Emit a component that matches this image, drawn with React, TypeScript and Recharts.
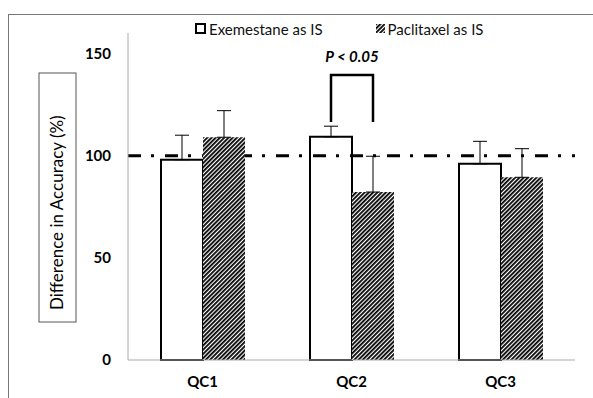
import React from "react";
import {
  BarChart,
  Bar,
  XAxis,
  YAxis,
  ErrorBar,
  ReferenceLine,
  LabelList,
  Legend,
} from "recharts";

const categories = ["QC1", "QC2", "QC3"];
const exemestane = [98, 109.2, 96];
const exemestaneErr = [12, 5.2, 11];
const paclitaxel = [109, 82.2, 89.4];
const paclitaxelErr = [13, 17.5, 14];
const yTicks = [0, 50, 100, 150];
const refValue = 100;
// significance bracket, only for QC2
const bracketTop = [null, 139.5, null];
const bracketLeg = [null, 116.5, null];
const bracketText = [null, "P < 0.05", null];

const data = categories.map((name, i) => ({
  name,
  exe: exemestane[i],
  exeErr: [0, exemestaneErr[i]],
  pac: paclitaxel[i],
  pacErr: [0, paclitaxelErr[i]],
  sig: bracketTop[i],
}));

const font = "Lato, 'Open Sans', sans-serif";

function Bracket(props: any) {
  const i = props.index;
  if (i == null || bracketTop[i] == null) return null;
  const vb = props.viewBox || props;
  const base = vb.y + vb.height;
  const ppu = vb.height / exemestane[i];
  const x1 = vb.x + vb.width / 2;
  const x2 = vb.x + vb.width * 1.5;
  const yTop = base - (bracketTop[i] as number) * ppu;
  const yLeg = base - (bracketLeg[i] as number) * ppu;
  return (
    <g>
      <path
        d={`M${x1},${yLeg} L${x1},${yTop} L${x2},${yTop} L${x2},${yLeg}`}
        fill="none"
        stroke="#000"
        strokeWidth={2.5}
      />
      <text
        x={(x1 + x2) / 2}
        y={yTop - 13}
        textAnchor="middle"
        fontWeight="bold"
        fontStyle="italic"
        fontSize={15}
        fill="#000"
      >
        {bracketText[i]}
      </text>
    </g>
  );
}

function YLabel() {
  const tx = 63;
  const ty = 310;
  return (
    <g>
      <rect x={39} y={73} width={37} height={249} fill="#fff" stroke="#555" strokeWidth={1} />
      <text
        x={tx}
        y={ty}
        transform={`rotate(-90 ${tx} ${ty})`}
        textAnchor="start"
        fontSize={17}
        fill="#000"
      >
        Difference in Accuracy (%)
      </text>
    </g>
  );
}

function LegendContent() {
  return (
    <div
      style={{
        display: "flex",
        justifyContent: "flex-start",
        fontSize: 15,
        color: "#111",
        paddingLeft: 195,
      }}
    >
      <div style={{ display: "flex", alignItems: "center", marginRight: 53 }}>
        <svg width={14} height={12}>
          <rect x={1} y={1} width={9} height={9} fill="#fff" stroke="#000" strokeWidth={2} />
        </svg>
        <span>Exemestane as IS</span>
      </div>
      <div style={{ display: "flex", alignItems: "center" }}>
        <svg width={12} height={12}>
          <rect x={0} y={1} width={9} height={9} fill="url(#hatch)" />
        </svg>
        <span>Paclitaxel as IS</span>
      </div>
    </div>
  );
}

export default function App() {
  return (
    <div
      style={{
        position: "absolute",
        left: 0,
        top: 0,
        width: 593,
        height: 398,
        overflow: "hidden",
        background: "#fff",
        fontFamily: font,
      }}
    >
      <div
        style={{
          position: "absolute",
          left: 8,
          top: 14,
          width: 700,
          height: 500,
          border: "1px solid #777",
        }}
      />
      <div style={{ position: "absolute", left: 0, top: 0 }}>
        <BarChart
          width={593}
          height={398}
          data={data}
          margin={{ top: 33, right: 18, bottom: 8, left: 88 }}
          barSize={42}
          barGap={0}
        >
          <defs>
            <pattern
              id="hatch"
              width={3}
              height={3}
              patternUnits="userSpaceOnUse"
              patternTransform="rotate(45)"
            >
              <rect x={0} y={0} width={3} height={3} fill="#fff" />
              <rect x={0} y={0} width={1.8} height={3} fill="#000" />
            </pattern>
          </defs>
          <XAxis
            dataKey="name"
            height={30}
            axisLine={{ stroke: "#aaa" }}
            tickLine={false}
            tickSize={0}
            tickMargin={16}
            tick={{ fill: "#000", fontWeight: "bold", fontSize: 15 }}
          />
          <YAxis
            width={40}
            domain={[0, 160]}
            ticks={yTicks}
            axisLine={{ stroke: "#aaa" }}
            tickLine={false}
            tickSize={0}
            tickMargin={17}
            tick={{ fill: "#000", fontWeight: "bold", fontSize: 15 }}
            label={<YLabel />}
          />
          <Legend
            verticalAlign="middle"
            align="center"
            layout="horizontal"
            wrapperStyle={{ top: 20, left: 0, width: 593 }}
            content={<LegendContent />}
          />
          <ReferenceLine
            y={refValue}
            stroke="#000"
            strokeWidth={3}
            strokeDasharray="13 10 3 11"
            zIndex={250}
          />
          <Bar
            dataKey="exe"
            fill="none"
            stroke="#000"
            strokeWidth={2}
            isAnimationActive={false}
          >
            <ErrorBar dataKey="exeErr" direction="y" width={7} stroke="#000" strokeWidth={1} />
            <LabelList dataKey="sig" content={<Bracket />} />
          </Bar>
          <Bar dataKey="pac" fill="url(#hatch)" isAnimationActive={false}>
            <ErrorBar dataKey="pacErr" direction="y" width={7} stroke="#000" strokeWidth={1} />
          </Bar>
        </BarChart>
      </div>
    </div>
  );
}
